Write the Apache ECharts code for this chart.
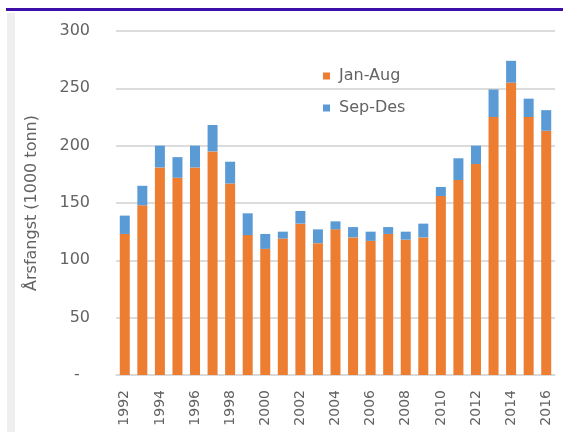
<!DOCTYPE html>
<html>
<head>
<meta charset="utf-8">
<script src="https://cdn.jsdelivr.net/npm/echarts@6/dist/echarts.min.js"></script>
<style>
html,body{margin:0;padding:0;background:#fff;}
#c{width:563px;height:432px;}
</style>
</head>
<body>
<div id="c"></div>
<script>
var years = ['1992','1993','1994','1995','1996','1997','1998','1999','2000','2001','2002','2003','2004','2005','2006','2007','2008','2009','2010','2011','2012','2013','2014','2015','2016'];
var janAug = [123,148,181,172,181,195,167,122,110,119,132,115,127,120,117,123,118,120,156,170,184,225,255,225,213];
var sepDes = [16,17,19,18,19,23,19,19,13,6,11,12,7,9,8,6,7,12,8,19,16,24,19,16,18];
var yTicks = [0,50,100,150,200,250,300];

var chart = echarts.init(document.getElementById('c'), null, {renderer:'canvas'});
var textColor = '#636363';
chart.setOption({
  animation:false,
  backgroundColor:'#ffffff',
  graphic:[
    {type:'rect', shape:{x:6,y:8,width:557,height:3}, style:{fill:'#3c10a8'}, silent:true},
    {type:'rect', shape:{x:7,y:13,width:8,height:419}, style:{fill:'#efefef'}, silent:true}
  ],
  grid:{left:116, right:8, top:31, bottom:57, containLabel:false},
  legend:{
    orient:'vertical', left:323, top:68, padding:0, itemGap:16,
    itemWidth:7, itemHeight:7, icon:'rect',
    textStyle:{color:textColor, fontFamily:'DejaVu Sans', fontSize:16, lineHeight:16, padding:[0,0,0,4]},
    data:['Jan-Aug','Sep-Des']
  },
  xAxis:{
    type:'category', data:years,
    axisLine:{show:true, lineStyle:{color:'#d9d9d9', width:1.5}},
    axisTick:{show:false},
    axisLabel:{interval:1, rotate:90, margin:15, color:textColor, fontFamily:'DejaVu Sans', fontSize:14}
  },
  yAxis:{
    type:'value', min:yTicks[0], max:yTicks[yTicks.length-1], interval:50,
    name:'Årsfangst (1000 tonn)', nameLocation:'middle', nameGap:76, nameRotate:90,
    nameTextStyle:{color:textColor, fontFamily:'DejaVu Sans', fontSize:16},
    axisLine:{show:false}, axisTick:{show:false},
    splitLine:{lineStyle:{color:'#dcdcdc', width:2}},
    axisLabel:{margin:26, color:textColor, fontFamily:'DejaVu Sans', fontSize:16,
      formatter:function(v){return v===0?'-  ':String(v);}}
  },
  series:[
    {name:'Jan-Aug', type:'bar', stack:'a', data:janAug, barWidth:10, itemStyle:{color:'#ED7D31'}},
    {name:'Sep-Des', type:'bar', stack:'a', data:sepDes, barWidth:10, itemStyle:{color:'#5B9BD5'}}
  ]
});
</script>
</body>
</html>
